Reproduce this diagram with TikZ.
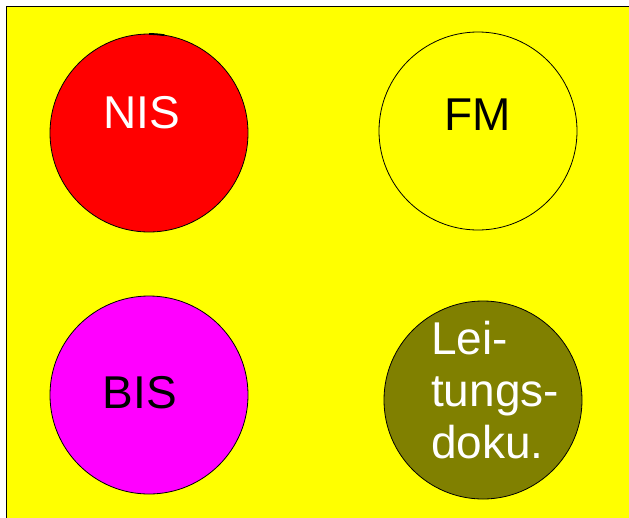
\documentclass[tikz,border=0pt]{standalone}
\usepackage{fontspec}
\setmainfont{Liberation Sans}
\definecolor{panelyellow}{RGB}{255,255,0}
\definecolor{discred}{RGB}{255,0,0}
\definecolor{discmagenta}{RGB}{255,0,255}
\definecolor{olivefill}{RGB}{128,128,0}
\begin{document}
\begin{tikzpicture}[x=1pt,y=-1pt,
  disc/.style={circle,draw=black,line width=0.8pt,minimum size=198pt,inner sep=0pt},
  lbl/.style={inner sep=0pt,font=\fontsize{46}{52}\selectfont}]
\useasboundingbox (0,0) rectangle (629,517);
% background panel
\draw[fill=panelyellow,line width=0.9pt] (6,6) rectangle (640,530);
% the four systems
\node[disc,fill=discred]     (nis)  at (149,133) {};
\node[disc,fill=panelyellow] (fm)   at (478,131) {};
\node[disc,fill=discmagenta] (bis)  at (149,395) {};
\node[disc,fill=olivefill]   (ltg)  at (483,400) {};
% small mark on the top of the NIS disc
\draw[line width=1.8pt] ([shift={(90:99pt)}]nis.center) arc[start angle=90,end angle=81,radius=99pt];
% labels
\node[lbl,text=white,anchor=base] (nislbl) at (142,128) {NIS};
\node[lbl,text=black,anchor=base] (fmlbl)  at (478,130) {FM};
\node[lbl,text=black,anchor=base] (bislbl) at (140,408) {BIS};
\node[lbl,text=white,anchor=base west,align=left] (ltglbl) at (431,458) {Lei-\\tungs-\\doku.};
\end{tikzpicture}
\end{document}
